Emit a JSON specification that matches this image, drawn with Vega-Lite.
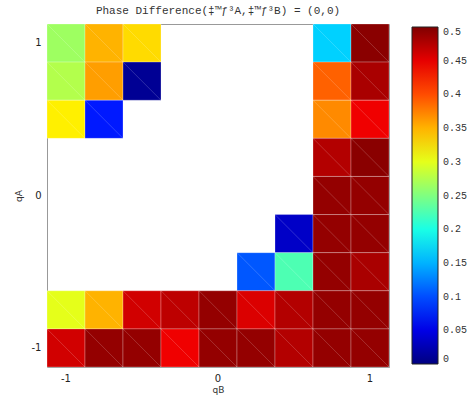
{
  "$schema": "https://vega.github.io/schema/vega-lite/v6.json",
  "width": 342,
  "height": 343,
  "autosize": "none",
  "padding": {"left": 47, "top": 24, "right": 80, "bottom": 28},
  "background": "white",
  "title": {
    "text": "Phase Difference(‡™ƒ³A,‡™ƒ³B) = (0,0)",
    "font": "Liberation Mono",
    "fontSize": 11,
    "fontWeight": "normal",
    "color": "#333",
    "anchor": "middle",
    "offset": 8
  },
  "data": {
    "values": [
      {"qB": -1, "qA": 1, "v": 0.265}, {"qB": -0.75, "qA": 1, "v": 0.35}, {"qB": -0.5, "qA": 1, "v": 0.33}, {"qB": 0.75, "qA": 1, "v": 0.165}, {"qB": 1, "qA": 1, "v": 0.495},
      {"qB": -1, "qA": 0.75, "v": 0.275}, {"qB": -0.75, "qA": 0.75, "v": 0.36}, {"qB": -0.5, "qA": 0.75, "v": 0.01}, {"qB": 0.75, "qA": 0.75, "v": 0.39}, {"qB": 1, "qA": 0.75, "v": 0.48},
      {"qB": -1, "qA": 0.5, "v": 0.32}, {"qB": -0.75, "qA": 0.5, "v": 0.075}, {"qB": 0.75, "qA": 0.5, "v": 0.37}, {"qB": 1, "qA": 0.5, "v": 0.445},
      {"qB": 0.75, "qA": 0.25, "v": 0.475}, {"qB": 1, "qA": 0.25, "v": 0.495},
      {"qB": 0.75, "qA": 0, "v": 0.49}, {"qB": 1, "qA": 0, "v": 0.49},
      {"qB": 0.5, "qA": -0.25, "v": 0.035}, {"qB": 0.75, "qA": -0.25, "v": 0.49}, {"qB": 1, "qA": -0.25, "v": 0.49},
      {"qB": 0.25, "qA": -0.5, "v": 0.105}, {"qB": 0.5, "qA": -0.5, "v": 0.225}, {"qB": 0.75, "qA": -0.5, "v": 0.49}, {"qB": 1, "qA": -0.5, "v": 0.48},
      {"qB": -1, "qA": -0.75, "v": 0.30}, {"qB": -0.75, "qA": -0.75, "v": 0.35}, {"qB": -0.5, "qA": -0.75, "v": 0.46}, {"qB": -0.25, "qA": -0.75, "v": 0.47}, {"qB": 0, "qA": -0.75, "v": 0.49}, {"qB": 0.25, "qA": -0.75, "v": 0.455}, {"qB": 0.5, "qA": -0.75, "v": 0.475}, {"qB": 0.75, "qA": -0.75, "v": 0.49}, {"qB": 1, "qA": -0.75, "v": 0.49},
      {"qB": -1, "qA": -1, "v": 0.46}, {"qB": -0.75, "qA": -1, "v": 0.49}, {"qB": -0.5, "qA": -1, "v": 0.49}, {"qB": -0.25, "qA": -1, "v": 0.445}, {"qB": 0, "qA": -1, "v": 0.49}, {"qB": 0.25, "qA": -1, "v": 0.49}, {"qB": 0.5, "qA": -1, "v": 0.475}, {"qB": 0.75, "qA": -1, "v": 0.49}, {"qB": 1, "qA": -1, "v": 0.49}
    ]
  },
  "layer": [
    {
      "mark": {"type": "rect", "stroke": "white", "strokeOpacity": 0.25, "strokeWidth": 1},
      "encoding": {
        "x": {
          "field": "qB", "type": "ordinal", "sort": "ascending",
          "scale": {"paddingInner": 0, "paddingOuter": 0},
          "axis": {"values": [-1, 0, 1], "labelAngle": 0, "title": "qB", "labelPadding": 6, "titlePadding": 2}
        },
        "y": {
          "field": "qA", "type": "ordinal", "sort": "descending",
          "scale": {"paddingInner": 0, "paddingOuter": 0},
          "axis": {"values": [-1, 0, 1], "title": "qA", "labelPadding": 6, "titlePadding": 8}
        },
        "color": {
          "field": "v", "type": "quantitative",
          "scale": {
            "domain": [0, 0.0625, 0.1875, 0.3125, 0.4375, 0.5],
            "range": ["#000080", "#0000ff", "#00ffff", "#ffff00", "#ff0000", "#800000"],
            "interpolate": "rgb"
          },
          "legend": {
            "title": null,
            "values": [0, 0.05, 0.1, 0.15, 0.2, 0.25, 0.3, 0.35, 0.4, 0.45, 0.5],
            "labelExpr": "'' + datum.value",
            "gradientLength": 337,
            "gradientThickness": 26,
            "gradientStrokeColor": "#222",
            "gradientStrokeWidth": 1,
            "labelFont": "Liberation Mono",
            "labelFontSize": 10,
            "labelColor": "#333",
            "labelOffset": 5,
            "offset": 20,
            "padding": 3
          }
        }
      }
    },
    {
      "mark": {"type": "rule", "stroke": "white", "strokeOpacity": 0.18, "strokeWidth": 1},
      "encoding": {
        "x": {"field": "qB", "type": "ordinal", "sort": "ascending", "bandPosition": 0},
        "x2": {"field": "qB", "bandPosition": 1},
        "y": {"field": "qA", "type": "ordinal", "sort": "descending", "bandPosition": 0},
        "y2": {"field": "qA", "bandPosition": 1}
      }
    }
  ],
  "config": {
    "view": {"stroke": "#999", "strokeWidth": 1},
    "axis": {
      "domain": false,
      "ticks": false,
      "grid": false,
      "labelFont": "DejaVu Sans",
      "labelFontSize": 10,
      "labelColor": "#222",
      "titleFont": "DejaVu Sans",
      "titleFontSize": 9,
      "titleFontWeight": "normal",
      "titleColor": "#333"
    }
  }
}
